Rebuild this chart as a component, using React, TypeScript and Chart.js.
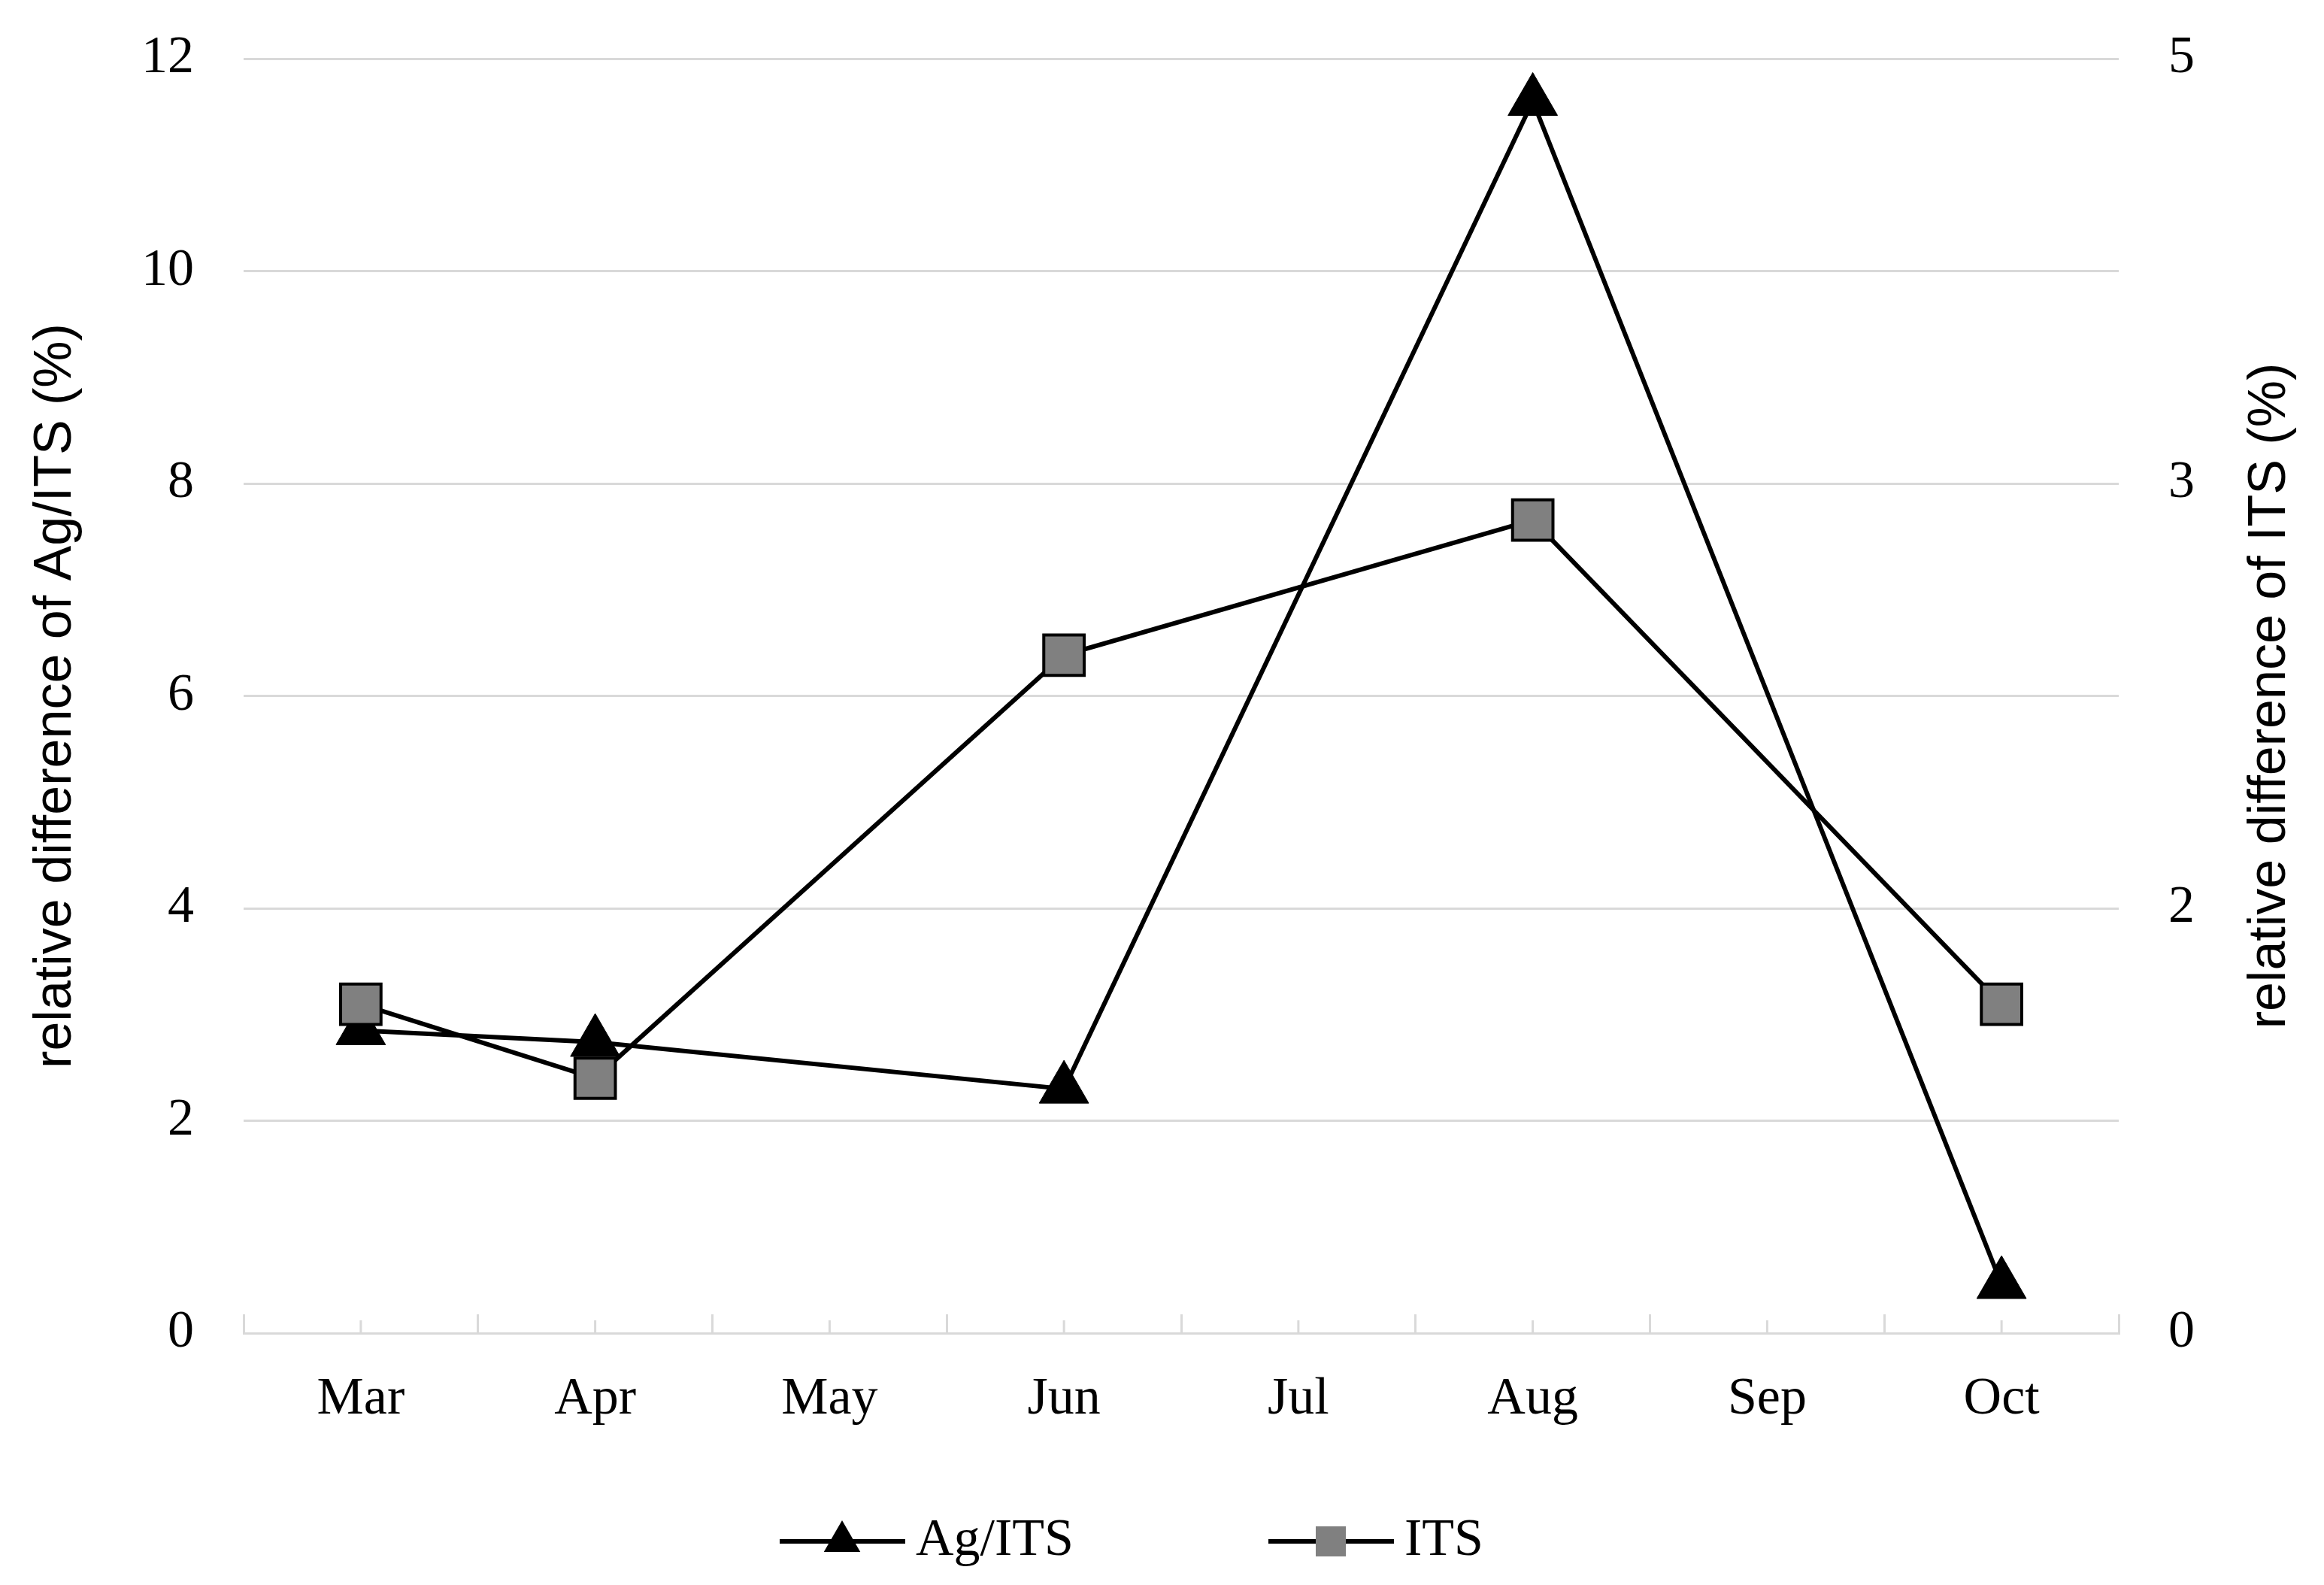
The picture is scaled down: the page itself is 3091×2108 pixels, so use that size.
import { useEffect, useRef } from "react";
import { Chart, registerables } from "chart.js";

Chart.register(...registerables);

// data
const months = ["Mar", "Apr", "May", "Jun", "Jul", "Aug", "Sep", "Oct"];
const agItsValues = [2.85, 2.74, null, 2.3, null, 11.6, null, 0.46];
const itsValues = [1.29, 1.0, null, 2.66, null, 3.19, null, 1.29];
const leftMax = 12;
const leftStep = 2;
const rightMax = 5;
const rightTickLabels = ["0", "2", "3", "5"];

const leftTitle = "relative difference of Ag/ITS (%)";
const rightTitle = "relative difference of ITS (%)";

const GRID = "#d9d9d9";
const SERIF = '"Liberation Serif", "Times New Roman", serif';
const SANS = '"Liberation Sans", Arial, sans-serif';
const TICK_SIZE = 70;
const TITLE_SIZE = 70;
const RIGHT_TITLE_TOP = 36;
const LINE_W = 6;

const legendItems = [
  { text: "Ag/ITS", marker: "triangle", fill: "#000000" },
  { text: "ITS", marker: "rect", fill: "#808080" },
];

// chart.js adds tick padding above/below the end labels; drop it so the
// plot area can reach the top
const noEndPadding = (scale: any) => {
  scale.paddingTop = 0;
  scale.paddingBottom = 0;
};

const decorPlugin = {
  id: "decor",
  beforeDatasetsDraw(chart: any) {
    // short tick marks at each category centre
    const x = chart.scales.x;
    const ctx = chart.ctx;
    ctx.save();
    ctx.strokeStyle = GRID;
    ctx.lineWidth = 3;
    x.ticks.forEach((_: any, i: number) => {
      const px = x.getPixelForTick(i);
      ctx.beginPath();
      ctx.moveTo(px, x.top);
      ctx.lineTo(px, x.top - 17);
      ctx.stroke();
    });
    ctx.restore();
  },
  afterDraw(chart: any) {
    const ctx = chart.ctx;
    const y1 = chart.scales.y1;

    // right title reads bottom-to-top like the left one
    ctx.save();
    ctx.font = `${TITLE_SIZE}px ${SANS}`;
    ctx.fillStyle = "#000";
    ctx.textAlign = "center";
    ctx.textBaseline = "middle";
    ctx.translate(y1.right - RIGHT_TITLE_TOP - TITLE_SIZE / 2, (y1.top + y1.bottom) / 2);
    ctx.rotate(-Math.PI / 2);
    ctx.fillText(rightTitle, 0, 0);
    ctx.restore();

    // legend: line with marker, then label
    const y = chart.height - 58;
    let x = 1037;
    ctx.save();
    ctx.font = `${TICK_SIZE}px ${SERIF}`;
    ctx.textBaseline = "middle";
    ctx.textAlign = "left";
    legendItems.forEach((item) => {
      ctx.strokeStyle = "#000";
      ctx.lineWidth = LINE_W;
      ctx.beginPath();
      ctx.moveTo(x, y);
      ctx.lineTo(x + 167, y);
      ctx.stroke();
      const cx = x + 83;
      ctx.fillStyle = item.fill;
      if (item.marker === "triangle") {
        const r = 28;
        ctx.beginPath();
        ctx.moveTo(cx, y - r);
        ctx.lineTo(cx + r * 0.866, y + r / 2);
        ctx.lineTo(cx - r * 0.866, y + r / 2);
        ctx.closePath();
        ctx.fill();
      } else {
        ctx.fillRect(cx - 20, y - 20, 40, 40);
      }
      ctx.fillStyle = "#000";
      ctx.fillText(item.text, x + 181, y);
      x += 181 + ctx.measureText(item.text).width + 259;
    });
    ctx.restore();
  },
};

const App: React.FC = () => {
  const chartRef = useRef<HTMLCanvasElement | null>(null);
  const chartInstance = useRef<Chart | null>(null);

  useEffect(() => {
    document.body.style.margin = "0";
    if (chartInstance.current) {
      chartInstance.current.destroy();
    }
    if (!chartRef.current) return;
    const ctx = chartRef.current.getContext("2d");
    if (!ctx) return;

    chartInstance.current = new Chart(ctx, {
      type: "line",
      data: {
        labels: months,
        datasets: [
          {
            label: "Ag/ITS",
            data: agItsValues,
            yAxisID: "y",
            order: 1,
            borderColor: "#000000",
            borderWidth: LINE_W,
            pointStyle: "triangle",
            pointRadius: 38,
            pointBackgroundColor: "#000000",
            pointBorderColor: "#000000",
            pointBorderWidth: 1,
            spanGaps: true,
            clip: false,
          },
          {
            label: "ITS",
            data: itsValues,
            yAxisID: "y1",
            order: 0,
            borderColor: "#000000",
            borderWidth: LINE_W,
            pointStyle: "rect",
            pointRadius: 38,
            pointBackgroundColor: "#808080",
            pointBorderColor: "#000000",
            pointBorderWidth: 4,
            spanGaps: true,
            clip: false,
          },
        ],
      },
      options: {
        responsive: true,
        maintainAspectRatio: false,
        animation: false,
        devicePixelRatio: 1,
        layout: { padding: { top: 78, bottom: 132, left: 0, right: 0 } },
        plugins: {
          legend: { display: false },
          tooltip: { enabled: false },
        },
        scales: {
          x: {
            type: "category",
            offset: true,
            grid: {
              display: true,
              drawOnChartArea: false,
              drawTicks: true,
              tickLength: -25,
              offset: true,
              color: GRID,
              lineWidth: 3,
            },
            border: { display: true, color: GRID, width: 3 },
            ticks: {
              color: "#000",
              font: { family: SERIF, size: TICK_SIZE },
              padding: 72,
              maxRotation: 0,
              autoSkip: false,
            },
          },
          y: {
            position: "left",
            min: 0,
            max: leftMax,
            afterFit: noEndPadding,
            grid: { color: GRID, lineWidth: 3, drawTicks: false },
            border: { display: false },
            ticks: {
              stepSize: leftStep,
              color: "#000",
              font: { family: SERIF, size: TICK_SIZE },
              padding: 66,
            },
            title: {
              display: true,
              text: leftTitle,
              color: "#000",
              font: { family: SANS, size: TITLE_SIZE, lineHeight: 1 },
              padding: { top: 40, bottom: 12 },
            },
          },
          y1: {
            position: "right",
            min: 0,
            max: rightMax,
            afterFit: noEndPadding,
            grid: { display: false, drawTicks: false },
            border: { display: false },
            ticks: {
              count: rightTickLabels.length,
              color: "#000",
              font: { family: SERIF, size: TICK_SIZE },
              padding: 66,
              callback: (_v: any, i: number) => rightTickLabels[i],
            },
            title: {
              display: true,
              text: rightTitle,
              color: "rgba(0,0,0,0)",
              font: { family: SANS, size: TITLE_SIZE, lineHeight: 1 },
              padding: { top: RIGHT_TITLE_TOP, bottom: 0 },
            },
          },
        },
      },
      plugins: [decorPlugin],
    });

    return () => {
      if (chartInstance.current) {
        chartInstance.current.destroy();
        chartInstance.current = null;
      }
    };
  }, []);

  return (
    <div style={{ width: "3091px", height: "2108px", background: "#fff" }}>
      <canvas ref={chartRef}></canvas>
    </div>
  );
};

export default App;
